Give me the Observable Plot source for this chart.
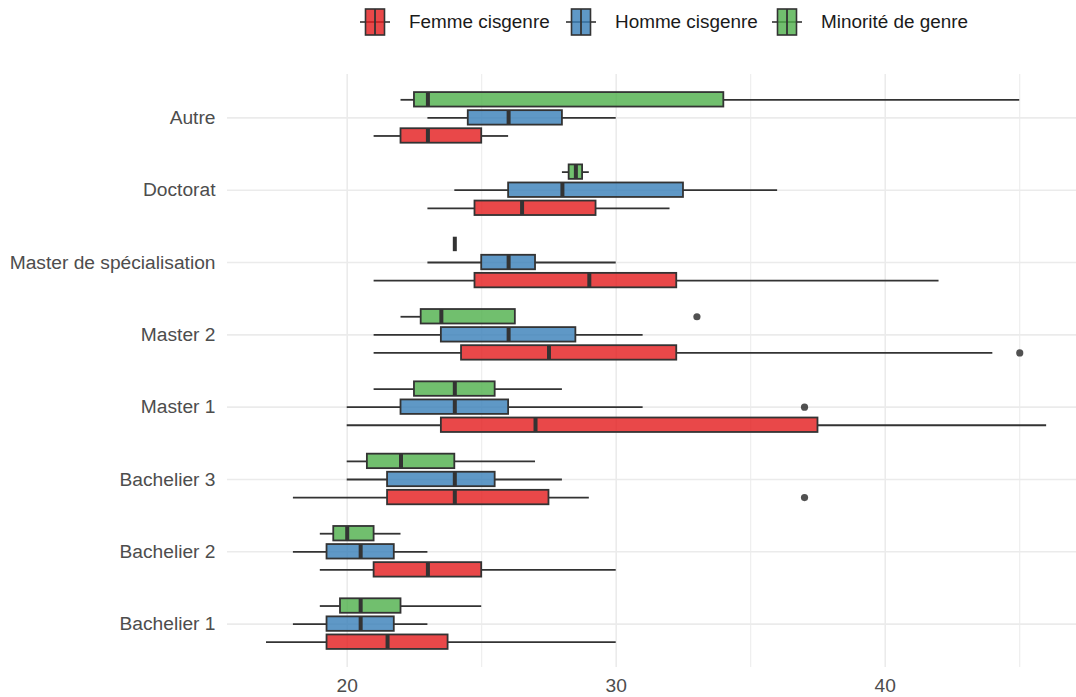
<!DOCTYPE html>
<html>
<head>
<meta charset="utf-8">
<script src="https://cdn.jsdelivr.net/npm/d3@7"></script>
<script src="https://cdn.jsdelivr.net/npm/@observablehq/plot@0.6"></script>
<style>
  html, body { margin: 0; padding: 0; background: #fff; }
  body { font-family: "Liberation Sans", Arial, sans-serif; }
  #legend { position: relative; width: 1076px; height: 44px; }
  .item { position: absolute; top: 8px; height: 28px; display: flex; align-items: center; font-size: 18.9px; color: #1a1a1a; }
  .item svg { margin-right: 19px; flex: none; }
</style>
</head>
<body>
<div id="legend"></div>
<div id="chart"></div>
<script>
// ---- data ----
const categories = ["Bachelier 1","Bachelier 2","Bachelier 3","Master 1","Master 2","Master de spécialisation","Doctorat","Autre"];
const genders = ["Femme cisgenre","Homme cisgenre","Minorité de genre"];
const colors = ["#E41A1C","#377EB8","#4DAF4A"];

const femme_min = [17, 19, 18, 20, 21, 21, 23, 21];
const femme_q1  = [19.25, 21, 21.5, 23.5, 24.25, 24.75, 24.75, 22];
const femme_med = [21.5, 23, 24, 27, 27.5, 29, 26.5, 23];
const femme_q3  = [23.75, 25, 27.5, 37.5, 32.25, 32.25, 29.25, 25];
const femme_max = [30, 30, 29, 46, 44, 42, 32, 26];

const homme_min = [18, 18, 20, 20, 21, 23, 24, 23];
const homme_q1  = [19.25, 19.25, 21.5, 22, 23.5, 25, 26, 24.5];
const homme_med = [20.5, 20.5, 24, 24, 26, 26, 28, 26];
const homme_q3  = [21.75, 21.75, 25.5, 26, 28.5, 27, 32.5, 28];
const homme_max = [23, 23, 28, 31, 31, 30, 36, 30];

const minorite_min = [19, 19, 20, 21, 22, 24, 28, 22];
const minorite_q1  = [19.75, 19.5, 20.75, 22.5, 22.75, 24, 28.25, 22.5];
const minorite_med = [20.5, 20, 22, 24, 23.5, 24, 28.5, 23];
const minorite_q3  = [22, 21, 24, 25.5, 26.25, 24, 28.75, 34];
const minorite_max = [25, 22, 27, 28, 26.25, 24, 29, 45];

const outlier_cat    = ["Bachelier 3", "Master 1", "Master 2", "Master 2"];
const outlier_gender = ["Femme cisgenre", "Homme cisgenre", "Femme cisgenre", "Minorité de genre"];
const outlier_value  = [37, 37, 45, 33];

const xMajor = [20, 30, 40];
const xMinor = [25, 35, 45];

// ---- layout config ----
const dodge = {"Femme cisgenre": -0.25, "Homme cisgenre": 0, "Minorité de genre": 0.25};
const half = 0.1;

const series = [
  [genders[0], femme_min, femme_q1, femme_med, femme_q3, femme_max],
  [genders[1], homme_min, homme_q1, homme_med, homme_q3, homme_max],
  [genders[2], minorite_min, minorite_q1, minorite_med, minorite_q3, minorite_max]
];
const boxes = [];
for (const [g, mn, q1, md, q3, mx] of series) {
  categories.forEach((c, i) => {
    const y = i + 1 + dodge[g];
    boxes.push({cat: c, gender: g, y, y1: y - half, y2: y + half, min: mn[i], q1: q1[i], med: md[i], q3: q3[i], max: mx[i]});
  });
}
const outliers = outlier_value.map((v, k) => ({
  value: v, gender: outlier_gender[k],
  y: categories.indexOf(outlier_cat[k]) + 1 + dodge[outlier_gender[k]]
}));

const chart = Plot.plot({
  width: 1076,
  height: 653,
  marginLeft: 227,
  marginRight: 0,
  marginTop: 30,
  marginBottom: 30,
  style: {fontFamily: '"Liberation Sans", Arial, sans-serif', fontSize: "19.2px", color: "#4D4D4D", background: "#fff"},
  x: {domain: [15.55, 47.11]},
  y: {domain: [0.4, 8.6]},
  color: {domain: genders, range: colors},
  marks: [
    Plot.ruleX(xMinor, {stroke: "#EBEBEB", strokeWidth: 1}),
    Plot.ruleX(xMajor, {stroke: "#EBEBEB", strokeWidth: 1.6}),
    Plot.ruleY(d3.range(1, categories.length + 1), {stroke: "#EBEBEB", strokeWidth: 1.6}),
    Plot.ruleY(boxes, {y: "y", x1: "min", x2: "q1", stroke: "#333333", strokeWidth: 1.8}),
    Plot.ruleY(boxes, {y: "y", x1: "q3", x2: "max", stroke: "#333333", strokeWidth: 1.8}),
    Plot.rect(boxes, {x1: "q1", x2: "q3", y1: "y1", y2: "y2", fill: "gender", fillOpacity: 0.8, stroke: "#333333", strokeWidth: 1.8}),
    Plot.ruleX(boxes, {x: "med", y1: "y1", y2: "y2", stroke: "#333333", strokeWidth: 4}),
    Plot.dot(outliers, {x: "value", y: "y", r: 3.6, fill: "#333333", fillOpacity: 0.85, stroke: null}),
    Plot.axisY(d3.range(1, categories.length + 1), {tickSize: 0, tickPadding: 12, tickFormat: d => categories[d - 1], label: null}),
    Plot.axisX(xMajor, {tickSize: 0, tickPadding: 11, label: null})
  ]
});
document.getElementById("chart").appendChild(chart);

// ---- legend ----
const legend = document.getElementById("legend");
const legendLeft = [360, 566, 772];
genders.forEach((g, i) => {
  const item = document.createElement("div");
  item.className = "item";
  item.style.left = legendLeft[i] + "px";
  item.innerHTML = `<svg width="30" height="28" viewBox="0 0 30 28">
    <line x1="0" x2="30" y1="14" y2="14" stroke="#333" stroke-width="1.6"/>
    <rect x="5.5" y="1" width="19" height="26" fill="${colors[i]}" fill-opacity="0.8" stroke="#333" stroke-width="1.6"/>
    <line x1="15" x2="15" y1="1" y2="27" stroke="#333" stroke-width="1.8"/>
  </svg><span>${g}</span>`;
  legend.appendChild(item);
});
</script>
</body>
</html>
